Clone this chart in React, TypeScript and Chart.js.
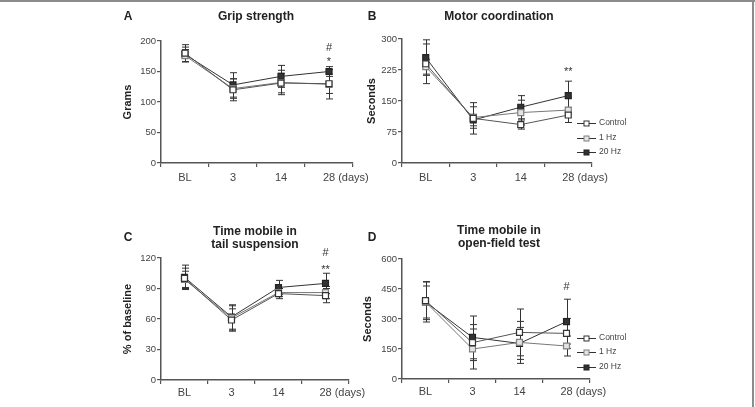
import React, { useEffect, useRef } from "react";
import { Chart, registerables } from "chart.js";

Chart.register(...registerables);

const FONT = '"Liberation Sans", Arial, Helvetica, sans-serif';
Chart.defaults.font.family = FONT;

// ---------- shared data ----------
const categories = ["BL", "3", "14", "28"];
const lastLabelSuffix = "(days)";
const seriesNames = ["Control", "1 Hz", "20 Hz"];

// ---------- A: Grip strength ----------
const gripTitle = ["Grip strength"];
const gripAxisTitle = "Grams";
const gripControl = [180, 120, 131, 130];
const grip1Hz = [176, 122, 132, 129];
const grip20Hz = [178, 128, 142, 150];
const gripControlErr = [14, 18, 16, 16];
const grip1HzErr = [10, 16, 20, 24];
const grip20HzErr = [12, 20, 18, 8];
const gripRange = [0, 200, 50];
const gripSigText = ["#", "*"];
const gripSigValue = [189, 166];

// ---------- B: Motor coordination ----------
const motorTitle = ["Motor coordination"];
const motorAxisTitle = "Seconds";
const motorControl = [240, 108, 93, 116];
const motor1Hz = [233, 110, 122, 128];
const motor20Hz = [255, 104, 135, 163];
const motorControlErr = [48, 38, 11, 18];
const motor1HzErr = [18, 26, 30, 30];
const motor20HzErr = [43, 14, 28, 35];
const motorRange = [0, 300, 75];
const motorSigText = ["**"];
const motorSigValue = [220];

// ---------- C: Tail suspension ----------
const tailTitle = ["Time mobile in", "tail suspension"];
const tailAxisTitle = "% of baseline";
const tailControl = [100, 59, 85, 83];
const tail1Hz = [99, 61, 86, 86];
const tail20Hz = [101, 62, 91, 95];
const tailControlErr = [10, 11, 5, 7];
const tail1HzErr = [8, 12, 4, 6];
const tail20HzErr = [12, 12, 7, 10];
const tailRange = [0, 120, 30];
const tailSigText = ["#", "**"];
const tailSigValue = [125, 108];

// ---------- D: Open-field ----------
const openTitle = ["Time mobile in", "open-field test"];
const openAxisTitle = "Seconds";
const openControl = [392, 182, 233, 228];
const open1Hz = [385, 150, 183, 165];
const open20Hz = [385, 208, 178, 287];
const openControlErr = [95, 90, 117, 75];
const open1HzErr = [80, 100, 105, 50];
const open20HzErr = [100, 107, 80, 112];
const openRange = [0, 600, 150];
const openSigText = ["#"];
const openSigValue = [458];

// ---------- styles ----------
const AXIS = "#555";
const TICK = "#444";
const TEXT = "#222";
const seriesStyles = [
  { line: "#555", fill: "#ffffff", border: "#333" },
  { line: "#777", fill: "#e4e4e4", border: "#808080" },
  { line: "#333", fill: "#333333", border: "#222" },
];
const X_TICK_LEN = 4;
const X_TICK_SIZE = 11;

type PanelCfg = {
  letter: string;
  letterX: number;
  letterY: number;
  left: number;
  top: number;
  width: number;
  height: number;
  pad: { left: number; top: number; right: number; bottom: number };
  yW: number;
  xH: number;
  xPad: number;
  yTitle: string;
  yTitlePad: number;
  title: string[];
  titleX: number;
  titleY: number[];
  range: number[];
  values: number[][];
  errors: number[][];
  sigText: string[];
  sigValue: number[];
  legend?: { x: number; ys: number[] };
};

const panels: PanelCfg[] = [
  {
    letter: "A", letterX: 128, letterY: 17,
    left: 100, top: 0, width: 275, height: 200,
    pad: { left: 0, top: 41, right: 22, bottom: 12 }, yW: 61, xH: 25, xPad: 4.5,
    yTitle: gripAxisTitle, yTitlePad: 21,
    title: gripTitle, titleX: 256, titleY: [17],
    range: gripRange,
    values: [gripControl, grip1Hz, grip20Hz],
    errors: [gripControlErr, grip1HzErr, grip20HzErr],
    sigText: gripSigText, sigValue: gripSigValue,
  },
  {
    letter: "B", letterX: 372, letterY: 17,
    left: 352, top: 0, width: 298, height: 200,
    pad: { left: 0, top: 39, right: 58, bottom: 12 }, yW: 50, xH: 25, xPad: 4.5,
    yTitle: motorAxisTitle, yTitlePad: 13,
    title: motorTitle, titleX: 499, titleY: [17],
    range: motorRange,
    values: [motorControl, motor1Hz, motor20Hz],
    errors: [motorControlErr, motor1HzErr, motor20HzErr],
    sigText: motorSigText, sigValue: motorSigValue,
    legend: { x: 577, ys: [123, 137.5, 152] },
  },
  {
    letter: "C", letterX: 128, letterY: 238,
    left: 100, top: 200, width: 275, height: 207,
    pad: { left: 0, top: 58, right: 26, bottom: 2 }, yW: 61, xH: 25, xPad: 2.4,
    yTitle: tailAxisTitle, yTitlePad: 21,
    title: tailTitle, titleX: 255, titleY: [232, 245],
    range: tailRange,
    values: [tailControl, tail1Hz, tail20Hz],
    errors: [tailControlErr, tail1HzErr, tail20HzErr],
    sigText: tailSigText, sigValue: tailSigValue,
  },
  {
    letter: "D", letterX: 372, letterY: 238,
    left: 352, top: 200, width: 298, height: 207,
    pad: { left: 0, top: 59, right: 60, bottom: 3 }, yW: 50, xH: 25, xPad: 2.4,
    yTitle: openAxisTitle, yTitlePad: 9,
    title: openTitle, titleX: 499, titleY: [231, 244],
    range: openRange,
    values: [openControl, open1Hz, open20Hz],
    errors: [openControlErr, open1HzErr, open20HzErr],
    sigText: openSigText, sigValue: openSigValue,
    legend: { x: 577, ys: [337.7, 352, 367] },
  },
];

function drawSquare(ctx: CanvasRenderingContext2D, x: number, y: number, half: number, fill: string, border: string) {
  ctx.save();
  ctx.fillStyle = fill;
  ctx.strokeStyle = border;
  ctx.lineWidth = 1;
  ctx.fillRect(x - half, y - half, half * 2, half * 2);
  ctx.strokeRect(x - half, y - half, half * 2, half * 2);
  ctx.restore();
}

function Panel({ cfg }: { cfg: PanelCfg }) {
  const ref = useRef<HTMLCanvasElement>(null);
  useEffect(() => {
    const canvas = ref.current!;
    const errorBars = {
      id: "errorBars",
      beforeDatasetsDraw(chart: any) {
        const ctx = chart.ctx as CanvasRenderingContext2D;
        const ys = chart.scales.y;
        ctx.save();
        ctx.strokeStyle = "#333";
        ctx.lineWidth = 1;
        chart.data.datasets.forEach((ds: any, i: number) => {
          const meta = chart.getDatasetMeta(i);
          meta.data.forEach((pt: any, j: number) => {
            const v = ds.data[j];
            const e = ds.errors[j];
            const x = Math.round(pt.x) + 0.5;
            const yt = ys.getPixelForValue(v + e);
            const yb = ys.getPixelForValue(v - e);
            ctx.beginPath();
            ctx.moveTo(x, yt);
            ctx.lineTo(x, yb);
            ctx.moveTo(x - 3.5, yt);
            ctx.lineTo(x + 3.5, yt);
            ctx.moveTo(x - 3.5, yb);
            ctx.lineTo(x + 3.5, yb);
            ctx.stroke();
          });
        });
        ctx.restore();
      },
    };
    const decor = {
      id: "decor",
      afterDraw(chart: any) {
        const ctx = chart.ctx as CanvasRenderingContext2D;
        const ox = cfg.left;
        const oy = cfg.top;
        ctx.save();
        // panel letter
        ctx.fillStyle = TEXT;
        ctx.textAlign = "center";
        ctx.textBaseline = "middle";
        ctx.font = `bold 12px ${FONT}`;
        ctx.fillText(cfg.letter, cfg.letterX - ox, cfg.letterY - oy);
        // title
        ctx.font = `bold 12px ${FONT}`;
        cfg.title.forEach((t, i) => ctx.fillText(t, cfg.titleX - ox, cfg.titleY[i] - oy));
        // "(days)" suffix after the last category label
        const xs = chart.scales.x;
        const ys = chart.scales.y;
        ctx.font = `${X_TICK_SIZE}px ${FONT}`;
        ctx.fillStyle = TICK;
        const lastIdx = categories.length - 1;
        const px = xs.getPixelForValue(lastIdx);
        const w = ctx.measureText(categories[lastIdx]).width;
        const sp = ctx.measureText(" ").width;
        ctx.textAlign = "left";
        ctx.fillText(lastLabelSuffix, px + w / 2 + sp, xs.top + X_TICK_LEN + cfg.xPad + X_TICK_SIZE * 0.6);
        // significance marks
        ctx.textAlign = "center";
        ctx.font = `11px ${FONT}`;
        ctx.fillStyle = "#333";
        cfg.sigText.forEach((t, i) => {
          ctx.fillText(t, px, ys.getPixelForValue(cfg.sigValue[i]));
        });
        // legend
        if (cfg.legend) {
          const lg = cfg.legend;
          ctx.font = `8.5px ${FONT}`;
          ctx.textAlign = "left";
          seriesNames.forEach((name, i) => {
            const y = lg.ys[i] - oy;
            const x0 = lg.x - ox;
            const st = seriesStyles[i];
            ctx.strokeStyle = "#333";
            ctx.lineWidth = 1;
            ctx.beginPath();
            ctx.moveTo(x0, Math.round(y) + 0.5);
            ctx.lineTo(x0 + 19, Math.round(y) + 0.5);
            ctx.stroke();
            drawSquare(ctx, x0 + 9.5, Math.round(y) + 0.5, 2.5, st.fill, st.border);
            ctx.fillStyle = "#444";
            ctx.fillText(name, x0 + 22, y);
          });
        }
        ctx.restore();
      },
    };
    const chart = new Chart(canvas, {
      type: "line",
      data: {
        labels: categories,
        datasets: cfg.values.map((vals, i) => ({
          label: seriesNames[i],
          data: vals,
          errors: cfg.errors[i],
          borderColor: seriesStyles[i].line,
          borderWidth: 1,
          pointStyle: "rect",
          pointRadius: 4.2,
          pointBackgroundColor: seriesStyles[i].fill,
          pointBorderColor: seriesStyles[i].border,
          pointBorderWidth: 1.2,
          tension: 0,
          clip: false,
        })) as any,
      },
      options: {
        animation: false,
        responsive: false,
        maintainAspectRatio: false,
        events: [],
        layout: { padding: cfg.pad },
        plugins: {
          legend: { display: false },
          title: { display: false },
          tooltip: { enabled: false },
        },
        scales: {
          x: {
            type: "category",
            offset: true,
            grid: {
              offset: true,
              drawOnChartArea: false,
              drawTicks: true,
              tickLength: X_TICK_LEN,
              color: AXIS,
              lineWidth: 1.2,
            },
            border: { display: true, color: AXIS, width: 1.5 },
            ticks: {
              font: { size: X_TICK_SIZE, family: FONT },
              color: TICK,
              padding: cfg.xPad,
              maxRotation: 0,
              autoSkip: false,
            },
            afterFit: (s: any) => {
              s.height = cfg.xH;
            },
          },
          y: {
            min: cfg.range[0],
            max: cfg.range[1],
            grid: {
              drawOnChartArea: false,
              drawTicks: true,
              tickLength: 4,
              color: AXIS,
              lineWidth: 1.2,
            },
            border: { display: true, color: AXIS, width: 1.5 },
            ticks: {
              stepSize: cfg.range[2],
              font: { size: 9.5, family: FONT },
              color: TICK,
              padding: 1,
            },
            title: {
              display: true,
              text: cfg.yTitle,
              color: TEXT,
              font: { size: 11, weight: "bold", family: FONT },
              padding: { top: cfg.yTitlePad, bottom: 0 },
            },
            afterFit: (s: any) => {
              s.width = cfg.yW;
            },
          },
        },
      } as any,
      plugins: [errorBars, decor],
    });
    return () => chart.destroy();
  }, [cfg]);
  return (
    <canvas
      ref={ref}
      width={cfg.width}
      height={cfg.height}
      style={{
        position: "absolute",
        left: cfg.left,
        top: cfg.top,
        width: cfg.width,
        height: cfg.height,
      }}
    />
  );
}

export default function App() {
  return (
    <div
      style={{
        position: "absolute",
        left: 0,
        top: 0,
        width: 755,
        height: 407,
        background: "#fff",
        overflow: "hidden",
      }}
    >
      <div style={{ position: "absolute", left: 0, top: 0, width: 755, height: 2, background: "#8c8c8c" }} />
      <div style={{ position: "absolute", left: 752, top: 0, width: 2, height: 407, background: "#8c8c8c" }} />
      {panels.map((p) => (
        <Panel key={p.letter} cfg={p} />
      ))}
    </div>
  );
}
